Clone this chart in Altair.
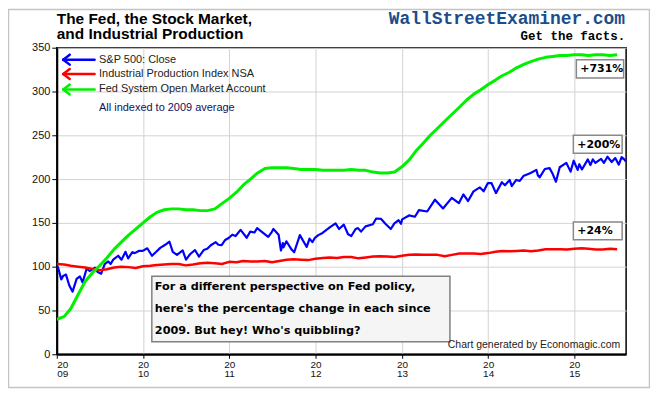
import altair as alt
import pandas as pd

# ---------------- data ----------------
series_names = ["S&P 500: Close", "Industrial Production Index NSA", "Fed System Open Market Account"]
series_colors = ["#0000ff", "#ff0000", "#00f000"]

sp_dates = [
    "2009-01-02", "2009-01-06", "2009-01-20", "2009-01-28", "2009-02-09", "2009-02-23", "2009-03-09", "2009-03-26",
    "2009-04-09", "2009-04-20", "2009-05-08", "2009-05-20", "2009-06-12", "2009-06-23", "2009-07-08", "2009-07-23",
    "2009-08-07", "2009-08-17", "2009-08-28", "2009-09-18", "2009-10-02", "2009-10-19", "2009-10-30", "2009-11-17",
    "2009-11-27", "2009-12-14", "2009-12-31",
    "2010-01-19", "2010-02-08", "2010-02-26", "2010-03-15", "2010-04-05", "2010-04-23", "2010-05-07", "2010-05-25",
    "2010-06-18", "2010-07-02", "2010-07-20", "2010-08-09", "2010-08-26", "2010-09-15", "2010-09-30", "2010-10-15",
    "2010-11-05", "2010-11-16", "2010-11-30", "2010-12-15", "2010-12-31",
    "2011-01-14", "2011-01-28", "2011-02-18", "2011-03-16", "2011-03-31", "2011-04-18", "2011-04-29", "2011-05-23",
    "2011-06-15", "2011-06-30", "2011-07-07", "2011-07-29", "2011-08-08", "2011-08-16", "2011-08-19", "2011-08-31",
    "2011-09-22", "2011-10-03", "2011-10-27", "2011-11-25", "2011-12-07", "2011-12-19", "2011-12-30",
    "2012-01-13", "2012-01-31", "2012-02-29", "2012-03-26", "2012-04-10", "2012-04-30", "2012-05-18", "2012-06-01",
    "2012-06-19", "2012-06-29", "2012-07-12", "2012-07-31", "2012-08-31", "2012-09-14", "2012-10-05", "2012-10-23",
    "2012-11-15", "2012-11-30", "2012-12-18", "2012-12-28",
    "2013-01-02", "2013-01-31", "2013-02-25", "2013-03-14", "2013-04-18", "2013-05-21", "2013-06-24", "2013-07-31",
    "2013-08-30", "2013-09-18", "2013-10-08", "2013-10-31", "2013-11-27", "2013-12-13", "2013-12-31",
    "2014-01-15", "2014-02-03", "2014-02-28", "2014-03-13", "2014-04-02", "2014-04-11", "2014-04-30", "2014-05-15",
    "2014-05-30", "2014-06-30", "2014-07-24", "2014-07-31", "2014-08-07", "2014-08-29", "2014-09-18", "2014-10-01",
    "2014-10-15", "2014-10-31", "2014-11-28", "2014-12-16", "2014-12-29",
    "2015-01-15", "2015-01-22", "2015-02-02", "2015-02-27", "2015-03-10", "2015-03-20", "2015-03-31", "2015-04-24",
    "2015-05-06", "2015-05-21", "2015-06-08", "2015-06-23", "2015-07-08", "2015-07-20", "2015-07-31", "2015-08-07",
]
sp_vals = [
    99, 99.5, 85.5, 89.5, 91, 78.5, 71.5, 86,
    89, 82, 98, 95, 99, 94, 92, 103,
    106, 103, 108, 112.5, 108, 117, 109.5, 116.5,
    115.5, 118, 118,
    121, 112.5, 117, 121.5, 125, 128.5, 117, 113.5,
    118.5, 108, 114.5, 119, 111.5, 119, 120.5, 124.5,
    128, 125, 124.5, 130.5, 133,
    136.5, 135, 142, 133, 140, 139, 144, 139,
    134, 139.5, 143, 136.5, 118.5, 127, 122, 129,
    119.5, 116.5, 136, 122.5, 132, 128, 133,
    136, 138.5, 144.5, 149.5, 143, 148, 137, 135,
    143, 144, 140, 146, 148.5, 155, 154.5, 149,
    143, 149.5, 153, 149,
    154, 158.5, 157, 164.5, 163, 176.5, 166.5, 178.5,
    172.5, 182.5, 175, 186, 190.5, 186, 195.5,
    195.5, 184, 196.5, 193, 199, 192, 199, 198,
    203.5, 207, 210.5, 204, 202, 211.5, 212.5, 206,
    197, 213.5, 218.5, 208.5, 221,
    210.5, 217, 211, 222.5, 216, 222.5, 218.5, 223,
    218.5, 225.5, 219.5, 224, 216.5, 225, 222.5, 220,
]

month_dates = [f"{y}-{m:02d}-01" for y in range(2009, 2016) for m in range(1, 13)][:79]

ip_vals = [
    103, 102.5, 101, 100, 99, 97.5, 96, 97, 99, 100, 99.5, 98.5,
    100.5, 101, 102, 102.5, 103, 103, 101.5, 102.5, 104, 104.5, 104, 103,
    105.5, 105, 106.5, 106, 106, 106.5, 105, 106.5, 108, 108.5, 108, 107.5,
    109, 110, 110.5, 110, 111, 111, 109.5, 110.5, 111.5, 112, 111.5, 111,
    112.5, 113.5, 114, 113.5, 113.5, 113.5, 112, 113.5, 115, 115, 115, 114.5,
    115.5, 117, 118, 117.5, 118, 118.5, 117.5, 118.5, 120, 120, 120, 119.5,
    120.5, 121, 120.5, 119.5, 119.5, 120.5, 120,
]

soma_vals = [
    40, 43, 52, 68, 83, 93, 101, 110, 120, 128, 136, 143,
    150, 157, 162, 165, 166, 166, 165, 165, 164, 164, 166, 172,
    178, 185, 193, 200, 207, 212, 213, 213, 213, 212, 211, 211,
    211, 210, 210, 210, 210, 211, 210, 210, 208, 207, 207, 208,
    214, 222, 232, 241, 250, 258, 266, 274, 282, 290, 297, 302,
    308, 313, 318, 322, 327, 331, 334, 337, 339, 340, 341, 341,
    342, 342, 341, 342, 342, 341, 342,
]

year_ticks = list(range(2009, 2016))
y_ticks = [0, 50, 100, 150, 200, 250, 300, 350]

title_lines = ["The Fed, the Stock Market,", "and Industrial Production"]
brand = "WallStreetExaminer.com"
slogan = "Get the facts."
note = "All indexed to 2009 average"
box_lines = ["For a different perspective on Fed policy,",
             "here's the percentage change in each since",
             "2009. But hey! Who's quibbling?"]
change_labels = ["+731%", "+200%", "+24%"]
credit = "Chart generated by Economagic.com"

# ---------------- build ----------------
W, H = 572, 308

df = pd.concat([
    pd.DataFrame({"date": sp_dates, "value": sp_vals, "series": series_names[0]}),
    pd.DataFrame({"date": month_dates, "value": ip_vals, "series": series_names[1]}),
    pd.DataFrame({"date": month_dates, "value": soma_vals, "series": series_names[2]}),
])

x_scale = alt.Scale(domain=[alt.DateTime(year=2009, month=1, date=1),
                            alt.DateTime(year=2015, month=8, date=8)])
y_scale = alt.Scale(domain=[0, 350], nice=False)

x_axis = alt.Axis(
    values=[alt.DateTime(year=y, month=1, date=1) for y in year_ticks],
    labelExpr="[substring(timeFormat(datum.value,'%Y'),0,2), substring(timeFormat(datum.value,'%Y'),2,4)]",
    labelFontSize=10, labelLineHeight=9.5, labelColor="#111", labelFont="Liberation Sans",
    tickSize=4, tickColor="black", labelPadding=1, labelBaseline="top",
    grid=True, gridColor="#d3d3d3", gridWidth=1,
    domainColor="black", domainWidth=2, title=None, labelOverlap=False,
)
y_axis = alt.Axis(
    values=y_ticks, labelFontSize=11, labelColor="#111", labelFont="Liberation Sans",
    tickSize=5, tickColor="black", labelPadding=2,
    grid=True, gridColor="#d3d3d3", gridWidth=1,
    domainColor="black", domainWidth=2, title=None,
)

def one():
    return alt.Chart(pd.DataFrame({"t": [""]}))

def text(s, x, y, size, color="black", weight="normal", font="Liberation Sans",
         align="left", baseline="alphabetic"):
    return alt.Chart(pd.DataFrame({"t": [s]})).mark_text(
        align=align, baseline=baseline, font=font, fontSize=size,
        fontWeight=weight, color=color
    ).encode(x=alt.value(x), y=alt.value(y), text="t:N")

def rect(x1, x2, y1, y2, fill, stroke, sw=1.5):
    return one().mark_rect(fill=fill, stroke=stroke, strokeWidth=sw).encode(
        x=alt.value(x1), x2=alt.value(x2), y=alt.value(y1), y2=alt.value(y2))

def rule(x1, x2, y1, y2, color, sw=2.5):
    return one().mark_rule(color=color, strokeWidth=sw, strokeCap="round").encode(
        x=alt.value(x1), x2=alt.value(x2), y=alt.value(y1), y2=alt.value(y2))

widths = {series_names[0]: 2.2, series_names[1]: 2.5, series_names[2]: 3}
lines = []
for i, name in enumerate(series_names):
    lines.append(
        alt.Chart(df[df["series"] == name]).mark_line(
            color=series_colors[i], strokeWidth=widths[name], strokeJoin="round", clip=True
        ).encode(
            x=alt.X("date:T", scale=x_scale, axis=x_axis),
            y=alt.Y("value:Q", scale=y_scale, axis=y_axis),
        )
    )

layers = [rect(-48.5, 595.5, -38.5, 341.5, "transparent", "#c4c4c4", 1.5)]
layers += lines

# legend arrows + labels
leg_y = [12, 26.5, 42]
for i, name in enumerate(series_names):
    yy = leg_y[i]
    layers.append(rule(6.5, 38, yy, yy, series_colors[i]))
    layers.append(rule(6.5, 13, yy, yy - 5, series_colors[i]))
    layers.append(rule(6.5, 13, yy, yy + 5, series_colors[i]))
    layers.append(text(name, 42.5, yy, 11, color="#222", baseline="middle"))
layers.append(text(note, 42.5, 61, 11, color="#101060", baseline="middle"))

# title + brand
layers.append(text(title_lines[0], 0, -24, 15.5, weight="bold"))
layers.append(text(title_lines[1], 0, -9, 15.5, weight="bold"))
layers.append(text(brand, 571, -23.5, 18, color="#1b4d8c", weight="bold",
                   font="Liberation Mono", align="right"))
layers.append(text(slogan, 571, -7.5, 12.5, color="black", weight="bold",
                   font="Liberation Mono", align="right"))

# change boxes
boxes = [(522, 569.5, 12, 30.5), (519, 568, 88, 106), (519, 568, 175, 193)]
for (x1, x2, y1, y2), lab in zip(boxes, change_labels):
    layers.append(rect(x1, x2, y1, y2, "white", "#888888", 1.5))
    layers.append(text(lab, x1 + 4, (y1 + y2) / 2 + 0.5, 11, weight="bold",
                       font="DejaVu Sans", baseline="middle"))

# comment box
layers.append(rect(95.5, 395, 229.5, 295.5, "#f5f5f5", "#808080", 1.5))
for k, ln in enumerate(box_lines):
    layers.append(text(ln, 98.5, 243.5 + k * 22.2, 11.3, weight="bold", font="DejaVu Sans"))

# credit
layers.append(text(credit, 566, 302, 10.5, color="#222", align="right"))

chart = alt.layer(*layers).properties(
    width=W, height=H,
    padding={"left": 49, "top": 39, "right": 24, "bottom": 34},
    autosize=alt.AutoSizeParams(type="none"),
    background="white",
).configure_view(stroke="black", strokeWidth=1.5)

chart.save("out.html", embed_options={"renderer": "svg", "actions": False})
